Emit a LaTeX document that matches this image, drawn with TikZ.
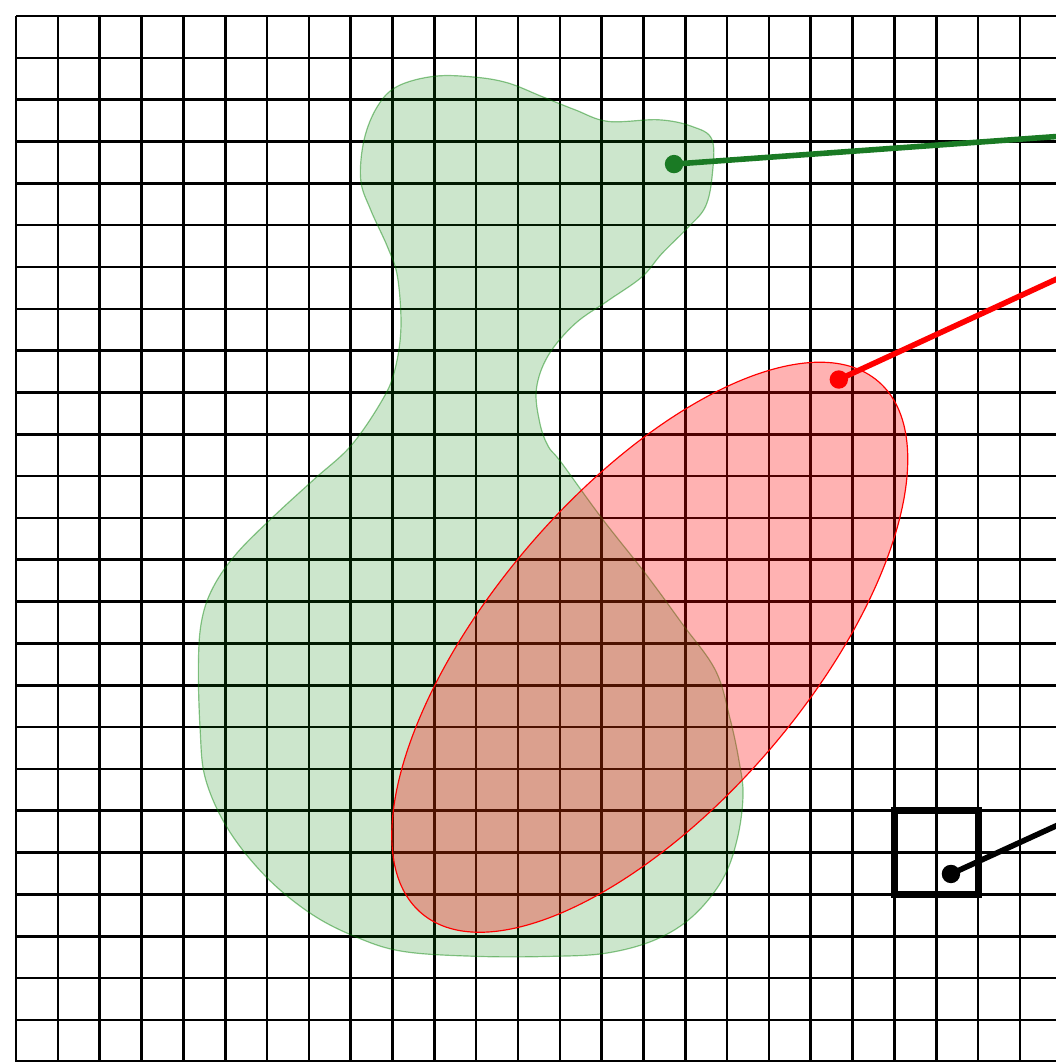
\documentclass[tikz,border=0pt]{standalone}
\usepackage{tikz}
\usepackage{xcolor}
\usetikzlibrary{positioning}
\definecolor{BlobGreen}{HTML}{008000}
\definecolor{LinkGreen}{HTML}{1A7A24}
\definecolor{ShapeRed}{HTML}{FF0000}

\begin{document}
\begin{tikzpicture}[x=1cm, y=1cm,
        gridline/.style={black, line width=1.8pt},
        dot/.style={circle, inner sep=0pt, minimum size=0.44cm},
        link/.style={line width=3.8pt}]
        \useasboundingbox (-0.383,-0.005) rectangle (24.86,25.383);
        \clip (-0.383,-0.005) rectangle (24.86,25.383);

        % Grid
        \draw[gridline] (0,-1) grid (26,25);

        % Green region
        \fill[BlobGreen, fill opacity=0.2] plot[smooth cycle, tension=0.6] coordinates {
            (8.24,21.08) (8.32,22.04) (8.64,22.84) (9.12,23.32) (10.0,23.56) (10.96,23.54)
            (11.76,23.4) (12.56,23.08) (13.36,22.76) (14.16,22.48) (15.36,22.52) (16.16,22.36)
            (16.64,22.04) (16.64,21.16) (16.48,20.44) (16.08,19.96) (15.44,19.32) (14.96,18.76)
            (14.16,18.2) (13.36,17.64) (12.72,16.88) (12.44,16.08) (12.52,15.28) (12.72,14.72)
            (13.04,14.32) (14.0,13.0) (15.04,11.68) (15.92,10.48) (16.72,9.36) (17.07,8.2)
            (17.29,7.16) (17.38,6.36) (17.24,5.32) (16.89,4.36) (16.18,3.48) (15.29,2.92)
            (14.13,2.6) (12.8,2.52) (11.02,2.52) (9.24,2.64) (8.09,3.0) (7.02,3.56)
            (5.96,4.44) (5.07,5.56) (4.53,6.76) (4.4,7.96) (4.36,9.52) (4.44,10.56)
            (4.72,11.36) (5.28,12.16) (6.16,13.04) (7.12,13.92) (8.0,14.72) (8.72,15.76)
            (9.04,16.48) (9.2,17.52) (9.12,18.76) (8.88,19.48) (8.48,20.36)};
        \draw[BlobGreen, draw opacity=0.45, line width=0.8pt] plot[smooth cycle, tension=0.6] coordinates {
            (8.24,21.08) (8.32,22.04) (8.64,22.84) (9.12,23.32) (10.0,23.56) (10.96,23.54)
            (11.76,23.4) (12.56,23.08) (13.36,22.76) (14.16,22.48) (15.36,22.52) (16.16,22.36)
            (16.64,22.04) (16.64,21.16) (16.48,20.44) (16.08,19.96) (15.44,19.32) (14.96,18.76)
            (14.16,18.2) (13.36,17.64) (12.72,16.88) (12.44,16.08) (12.52,15.28) (12.72,14.72)
            (13.04,14.32) (14.0,13.0) (15.04,11.68) (15.92,10.48) (16.72,9.36) (17.07,8.2)
            (17.29,7.16) (17.38,6.36) (17.24,5.32) (16.89,4.36) (16.18,3.48) (15.29,2.92)
            (14.13,2.6) (12.8,2.52) (11.02,2.52) (9.24,2.64) (8.09,3.0) (7.02,3.56)
            (5.96,4.44) (5.07,5.56) (4.53,6.76) (4.4,7.96) (4.36,9.52) (4.44,10.56)
            (4.72,11.36) (5.28,12.16) (6.16,13.04) (7.12,13.92) (8.0,14.72) (8.72,15.76)
            (9.04,16.48) (9.2,17.52) (9.12,18.76) (8.88,19.48) (8.48,20.36)};

        % Red ellipse
        \fill[ShapeRed, fill opacity=0.3] (15.15,9.91) ellipse[x radius=8.38, y radius=3.77, rotate=49.3];
        \draw[ShapeRed, line width=0.8pt] (15.15,9.91) ellipse[x radius=8.38, y radius=3.77, rotate=49.3];

        % Square
        \node[draw, line width=4.6pt, minimum size=2cm, inner sep=0pt] (box) at (22,5) {};

        % Dots and links
        \node[dot, fill=LinkGreen] (greenDot) at (15.73,21.46) {};
        \node[dot, fill=ShapeRed] (redDot) at (19.67,16.31) {};
        \node[dot, fill=black] (boxDot) at (22.35,4.49) {};
        \coordinate (greenEnd) at (26,22.20);
        \coordinate (redEnd) at (26,19.23);
        \coordinate (boxEnd) at (26,6.16);

        \draw[link, LinkGreen] (greenDot.center) -- (greenEnd);
        \draw[link, ShapeRed] (redDot.center) -- (redEnd);
        \draw[link, black] (boxDot.center) -- (boxEnd);

    \end{tikzpicture}
\end{document}
